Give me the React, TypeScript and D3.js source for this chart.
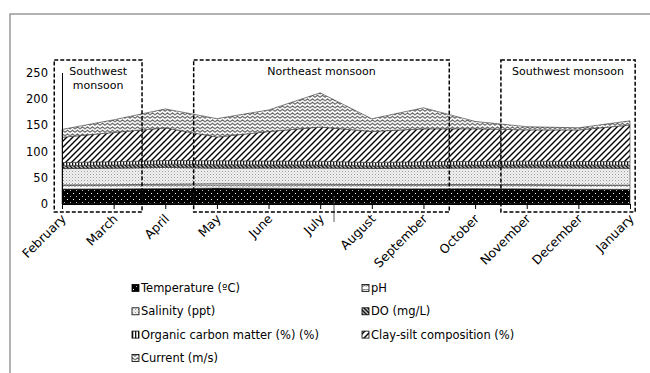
import React, { useEffect, useRef } from "react";
import * as d3 from "d3";

// months on the x axis
const months = [
  "February", "March", "April", "May", "June", "July",
  "August", "September", "October", "November", "December", "January",
];

// stacked series, bottom to top
const temperature = [28.5, 28.8, 29.5, 30.2, 30.0, 29.6, 29.2, 29.0, 29.3, 29.0, 28.2, 28.0];
const pH = [7.8, 7.9, 8.0, 8.1, 8.0, 7.9, 7.8, 7.9, 7.8, 7.9, 7.8, 7.8];
const salinity = [31, 31.5, 32, 30, 30.5, 31, 30.5, 31, 31.5, 32, 32.5, 32];
const dissolvedOxygen = [5.5, 5.8, 6.2, 6.5, 6.0, 5.8, 5.0, 5.5, 5.4, 5.6, 5.8, 6.0];
const organicCarbon = [6, 6.5, 7, 7.5, 7.2, 7.0, 6.5, 7, 7, 7, 6.5, 6.8];
const claySilt = [48, 55.5, 62, 45, 56, 65, 59, 62.5, 62, 59.5, 60, 69.5];
const current = [15, 24, 36, 35, 41, 65, 24, 40, 14, 6, 4, 8];

const seriesKeys = ["temp", "ph", "sal", "do", "oc", "clay", "cur"];
const seriesLabels = [
  "Temperature (ºC)", "pH", "Salinity (ppt)", "DO (mg/L)",
  "Organic carbon matter (%) (%)", "Clay-silt composition (%)", "Current (m/s)",
];
const seriesValues = [temperature, pH, salinity, dissolvedOxygen, organicCarbon, claySilt, current];

const yTicks = [0, 50, 100, 150, 200, 250];

// monsoon boxes, in month-index units
const seasonNames = [["Southwest", "monsoon"], ["Northeast monsoon"], ["Southwest monsoon"]];
const seasonStart = [-0.15, 2.55, 8.5];
const seasonEnd = [1.55, 7.5, 11.1];

// legend layout: [column, row] for each series
const legendSlots = [[0, 0], [1, 0], [0, 1], [1, 1], [0, 2], [1, 2], [0, 3]];

const FONT = "DejaVu Sans";

function Patterns() {
  return (
    <defs>
      <pattern id="p-temp" width="6" height="6" patternUnits="userSpaceOnUse">
        <rect width="6" height="6" fill="#000" />
        <rect x="1" y="1" width="1" height="1" fill="#fff" />
        <rect x="4" y="4" width="1" height="1" fill="#bbb" />
      </pattern>
      <pattern id="p-ph" width="6" height="4" patternUnits="userSpaceOnUse">
        <rect width="6" height="4" fill="#fff" />
        <path d="M0 2.5 L1.5 1 L3 2.5 L4.5 1 L6 2.5" stroke="#333" strokeWidth="0.9" fill="none" />
      </pattern>
      <pattern id="p-sal" width="3" height="3" patternUnits="userSpaceOnUse">
        <rect width="3" height="3" fill="#f2f2f2" />
        <rect x="0" y="0" width="1" height="1" fill="#999" />
        <rect x="1.5" y="1.5" width="1" height="1" fill="#bbb" />
      </pattern>
      <pattern id="p-do" width="4" height="4" patternUnits="userSpaceOnUse">
        <rect width="4" height="4" fill="#bbb" />
        <path d="M-1 -1 L5 5 M-1 3 L1 5 M3 -1 L5 1" stroke="#111" strokeWidth="1.3" />
      </pattern>
      <pattern id="p-oc" width="3" height="4" patternUnits="userSpaceOnUse">
        <rect width="3" height="4" fill="#fff" />
        <rect x="0" y="0" width="1.3" height="4" fill="#111" />
      </pattern>
      <pattern id="p-clay" width="6" height="6" patternUnits="userSpaceOnUse">
        <rect width="6" height="6" fill="#fff" />
        <path d="M-1 7 L7 -1 M-1 1 L1 -1 M5 7 L7 5" stroke="#000" strokeWidth="1.4" />
      </pattern>
      <pattern id="p-cur" width="5" height="3.5" patternUnits="userSpaceOnUse">
        <rect width="5" height="3.5" fill="#fff" />
        <path d="M0 2.8 L2.5 0.8 L5 2.8" stroke="#444" strokeWidth="1" fill="none" />
      </pattern>
    </defs>
  );
}

export default function App() {
  const xAxisRef = useRef<SVGGElement>(null);
  const yAxisRef = useRef<SVGGElement>(null);

  const width = 650;
  const height = 373;
  const left = 62;
  const right = 630;
  const y0 = 204;
  const yTop = 72.5;

  const xScale = d3.scalePoint<string>().domain(months).range([left, right]);
  const xIdx = d3.scaleLinear().domain([0, months.length - 1]).range([left, right]);
  const yScale = d3.scaleLinear().domain([0, 250]).range([y0, yTop]);

  const table = months.map((m, i) => {
    const row: any = { month: m };
    seriesKeys.forEach((k, j) => (row[k] = seriesValues[j][i]));
    return row;
  });
  const layers = d3.stack<any>().keys(seriesKeys)(table);
  const area = d3
    .area<any>()
    .x((d) => xScale(d.data.month) as number)
    .y0((d) => yScale(d[0]))
    .y1((d) => yScale(d[1]));

  useEffect(() => {
    const xg = d3.select(xAxisRef.current);
    xg.attr("transform", `translate(0, ${y0})`)
      .call(d3.axisBottom(xScale).tickSize(5).tickSizeOuter(0));
    xg.select(".domain").attr("stroke", "#000");
    xg.selectAll(".tick line").attr("stroke", "#000");
    xg.selectAll(".tick text")
      .attr("font-family", FONT)
      .attr("font-size", 12.5)
      .attr("fill", "#000")
      .attr("text-anchor", "end")
      .attr("x", -8)
      .attr("y", 14)
      .attr("dy", 0)
      .attr("transform", "rotate(-45)");

    const yg = d3.select(yAxisRef.current);
    yg.attr("transform", `translate(${left}, 0)`)
      .call(d3.axisLeft(yScale).tickValues(yTicks).tickSize(0).tickSizeOuter(0).tickPadding(14));
    yg.select(".domain").attr("stroke", "#000");
    yg.selectAll(".tick text")
      .attr("font-family", FONT)
      .attr("font-size", 11.5)
      .attr("fill", "#000");
  }, []);

  return (
    <svg
      width={width}
      height={height}
      style={{ position: "absolute", left: 0, top: 0, background: "#fff" }}
    >
      <Patterns />
      {/* outer figure frame */}
      <path d={`M10 ${height} L10 14 L${width} 14`} fill="none" stroke="#999" strokeWidth={1.5} />

      {layers.map((layer) => (
        <path
          key={layer.key}
          d={area(layer) || ""}
          fill={`url(#p-${layer.key})`}
          stroke="#333"
          strokeWidth={0.6}
        />
      ))}

      <g ref={xAxisRef} />
      <g ref={yAxisRef} />

      {/* stray vertical mark near July/August */}
      <line x1={334} x2={334} y1={196} y2={222} stroke="#333" strokeWidth={0.8} />

      {seasonNames.map((name, i) => {
        const x1 = xIdx(seasonStart[i]);
        const x2 = xIdx(seasonEnd[i]);
        return (
          <g key={i}>
            <rect
              x={x1}
              y={60}
              width={x2 - x1}
              height={152}
              fill="none"
              stroke="#000"
              strokeWidth={1.5}
              strokeDasharray="4 2"
            />
            {name.map((line, j) => (
              <text
                key={j}
                x={(x1 + x2) / 2}
                y={71 + j * 14}
                dy="0.35em"
                textAnchor="middle"
                fontFamily={FONT}
                fontSize={11}
              >
                {line}
              </text>
            ))}
          </g>
        );
      })}

      {seriesKeys.map((k, i) => {
        const [col, row] = legendSlots[i];
        const mx = col === 0 ? 132 : 362;
        const cy = 288 + row * 23.3;
        return (
          <g key={k}>
            <rect
              x={mx}
              y={cy - 3.5}
              width={7}
              height={7}
              fill={`url(#p-${k})`}
              stroke="#000"
              strokeWidth={0.8}
            />
            <text x={mx + 9} y={cy} dy="0.35em" fontFamily={FONT} fontSize={11.5}>
              {seriesLabels[i]}
            </text>
          </g>
        );
      })}
    </svg>
  );
}
